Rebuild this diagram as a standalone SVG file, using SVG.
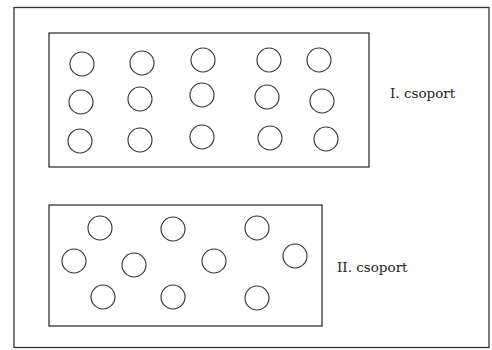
<svg xmlns="http://www.w3.org/2000/svg" width="492" height="350" viewBox="0 0 492 350">
<style>
.box{fill:none;stroke:#333;stroke-width:1.3}
.c{fill:none;stroke:#333;stroke-width:1.1}
.lbl{font-family:"DejaVu Serif","Liberation Serif",serif;font-size:13.5px;fill:#222}
</style>
<rect width="492" height="350" fill="#fff"/>
<rect class="box" x="14" y="7.5" width="475" height="340"/>
<g id="group1">
<rect class="box" x="49" y="33" width="320" height="134"/>
<g id="g1-circles">
<circle class="c" cx="82" cy="64" r="12"/>
<circle class="c" cx="142" cy="63" r="12"/>
<circle class="c" cx="203" cy="60" r="12"/>
<circle class="c" cx="269" cy="60" r="12"/>
<circle class="c" cx="319" cy="60" r="12"/>
<circle class="c" cx="81" cy="102" r="12"/>
<circle class="c" cx="140" cy="99" r="12"/>
<circle class="c" cx="202" cy="95" r="12"/>
<circle class="c" cx="267" cy="97" r="12"/>
<circle class="c" cx="322" cy="101" r="12"/>
<circle class="c" cx="80" cy="141" r="12"/>
<circle class="c" cx="140" cy="140" r="12"/>
<circle class="c" cx="202" cy="137" r="12"/>
<circle class="c" cx="270" cy="138" r="12"/>
<circle class="c" cx="326" cy="139" r="12"/>
</g>
<text class="lbl" x="390" y="98">I. csoport</text>
</g>
<g id="group2">
<rect class="box" x="49" y="205" width="273" height="121"/>
<g id="g2-circles">
<circle class="c" cx="100" cy="228" r="12"/>
<circle class="c" cx="173" cy="229" r="12"/>
<circle class="c" cx="257" cy="228" r="12"/>
<circle class="c" cx="74" cy="261" r="12"/>
<circle class="c" cx="134" cy="265" r="12"/>
<circle class="c" cx="214" cy="261" r="12"/>
<circle class="c" cx="295" cy="256" r="12"/>
<circle class="c" cx="103" cy="297" r="12"/>
<circle class="c" cx="173" cy="297" r="12"/>
<circle class="c" cx="257" cy="298" r="12"/>
</g>
<text class="lbl" x="337" y="272">II. csoport</text>
</g>
<g id="connectors"></g>
</svg>
